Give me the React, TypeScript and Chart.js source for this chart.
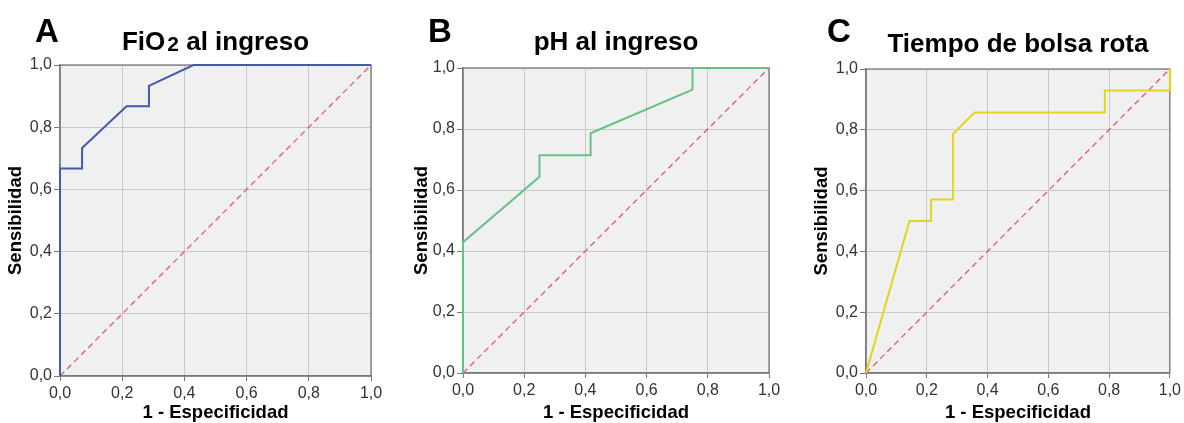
import React, { useEffect, useRef } from "react";
import { Chart, registerables } from "chart.js";

Chart.register(...registerables);

// ---- data ----
const tickValues = [0, 0.2, 0.4, 0.6, 0.8, 1.0];
const tickLabels = ["0,0", "0,2", "0,4", "0,6", "0,8", "1,0"];
const xAxisTitle = "1 - Especificidad";
const yAxisTitle = "Sensibilidad";

const fio2Fpr = [0, 0, 0.071, 0.071, 0.214, 0.286, 0.286, 0.429, 1];
const fio2Tpr = [0, 0.667, 0.667, 0.733, 0.867, 0.867, 0.933, 1, 1];

const phFpr = [0, 0, 0.25, 0.25, 0.417, 0.417, 0.75, 0.75, 1];
const phTpr = [0, 0.429, 0.643, 0.714, 0.714, 0.786, 0.929, 1, 1];

const bolsaFpr = [0, 0.143, 0.214, 0.214, 0.286, 0.286, 0.357, 0.786, 0.786, 1, 1];
const bolsaTpr = [0, 0.5, 0.5, 0.571, 0.571, 0.786, 0.857, 0.857, 0.929, 0.929, 1];

const refFpr = [0, 1];
const refTpr = [0, 1];

const FONT = "'Liberation Sans', Arial, Helvetica, sans-serif";

type TitlePart = { text: string; size: number; dy: number; gap?: number };

type PanelCfg = {
  letter: string;
  title: TitlePart[];
  fpr: number[];
  tpr: number[];
  color: string;
  left: number;
  width: number;
  top: number;
  xAxisH: number;
  yAxisW: number;
  padRight: number;
  yTitlePad: number;
  letterX: number;
  titleBaseline: number;
};

const panels: PanelCfg[] = [
  {
    letter: "A",
    title: [
      { text: "FiO", size: 26, dy: 0 },
      { text: "2", size: 21, dy: 1, gap: 2 },
      { text: " al ingreso", size: 26, dy: 0 },
    ],
    fpr: fio2Fpr,
    tpr: fio2Tpr,
    color: "#4659b0",
    left: 0,
    width: 400,
    top: 65,
    xAxisH: 47,
    yAxisW: 60,
    padRight: 29,
    yTitlePad: 5,
    letterX: 35,
    titleBaseline: 50,
  },
  {
    letter: "B",
    title: [{ text: "pH al ingreso", size: 26, dy: 0 }],
    fpr: phFpr,
    tpr: phTpr,
    color: "#62c384",
    left: 400,
    width: 390,
    top: 68,
    xAxisH: 50,
    yAxisW: 63,
    padRight: 21,
    yTitlePad: 11,
    letterX: 28,
    titleBaseline: 50,
  },
  {
    letter: "C",
    title: [{ text: "Tiempo de bolsa rota", size: 26, dy: 0 }],
    fpr: bolsaFpr,
    tpr: bolsaTpr,
    color: "#e3d41a",
    left: 790,
    width: 394,
    top: 69,
    xAxisH: 50,
    yAxisW: 76,
    padRight: 14,
    yTitlePad: 21,
    letterX: 37,
    titleBaseline: 52,
  },
];

const H = 423;

function Panel({ cfg }: { cfg: PanelCfg }) {
  const ref = useRef<HTMLCanvasElement | null>(null);

  useEffect(() => {
    if (!ref.current) return;
    const decor = {
      id: "decor",
      beforeDraw(chart: any) {
        const { ctx, chartArea: a } = chart;
        ctx.save();
        ctx.fillStyle = "#f0f0f0";
        ctx.fillRect(a.left, a.top, a.right - a.left, a.bottom - a.top);
        ctx.restore();
      },
      beforeDatasetsDraw(chart: any) {
        const { ctx, chartArea: a } = chart;
        ctx.save();
        ctx.strokeStyle = "#7a7a7a";
        ctx.lineWidth = 1.3;
        ctx.strokeRect(a.left, a.top, a.right - a.left, a.bottom - a.top);
        ctx.restore();
      },
      afterDraw(chart: any) {
        const { ctx, chartArea: a } = chart;
        ctx.save();
        ctx.fillStyle = "#000";
        ctx.textBaseline = "alphabetic";
        ctx.textAlign = "left";
        ctx.font = `bold 33px ${FONT}`;
        ctx.fillText(cfg.letter, cfg.letterX, 42);
        // title
        let total = 0;
        const widths = cfg.title.map((p) => {
          ctx.font = `bold ${p.size}px ${FONT}`;
          const w = ctx.measureText(p.text).width + (p.gap || 0);
          total += w;
          return w;
        });
        let x = (a.left + a.right) / 2 - total / 2;
        cfg.title.forEach((p, i) => {
          ctx.font = `bold ${p.size}px ${FONT}`;
          ctx.fillText(p.text, x + (p.gap || 0), cfg.titleBaseline + p.dy);
          x += widths[i];
        });
        ctx.restore();
      },
    };

    const chart = new Chart(ref.current, {
      type: "scatter",
      data: {
        datasets: [
          {
            data: cfg.fpr.map((v, i) => ({ x: v, y: cfg.tpr[i] })),
            showLine: true,
            borderColor: cfg.color,
            backgroundColor: cfg.color,
            borderWidth: 2,
            pointRadius: 0,
            tension: 0,
            clip: 4,
          },
          {
            data: refFpr.map((v, i) => ({ x: v, y: refTpr[i] })),
            showLine: true,
            borderColor: "#e4567a",
            backgroundColor: "#e4567a",
            borderWidth: 1.3,
            borderDash: [6, 4],
            pointRadius: 0,
            tension: 0,
            clip: 4,
          },
        ],
      },
      options: {
        animation: false,
        responsive: false,
        maintainAspectRatio: false,
        devicePixelRatio: 1,
        layout: { padding: { top: cfg.top, left: 0, right: cfg.padRight, bottom: 0 } },
        plugins: {
          legend: { display: false },
          tooltip: { enabled: false },
          title: { display: false },
        },
        scales: {
          x: {
            type: "linear",
            min: 0,
            max: 1,
            afterBuildTicks: (s: any) => {
              s.ticks = tickValues.map((v) => ({ value: v }));
            },
            afterFit: (s: any) => {
              s.height = cfg.xAxisH;
            },
            ticks: {
              callback: (_v: any, i: number) => tickLabels[i],
              font: { family: FONT, size: 16 },
              color: "#333",
              padding: 3,
              maxRotation: 0,
              autoSkip: false,
            },
            grid: { color: "#c9c9c9", lineWidth: 1, tickLength: 5, tickColor: "#777", drawTicks: true },
            border: { color: "#777", width: 1.3 },
            title: {
              display: true,
              text: xAxisTitle,
              color: "#000",
              font: { family: FONT, size: 18.5, weight: "bold", lineHeight: 1.1 },
              padding: { top: 0, bottom: 0 },
            },
          },
          y: {
            type: "linear",
            min: 0,
            max: 1,
            afterBuildTicks: (s: any) => {
              s.ticks = tickValues.map((v) => ({ value: v }));
            },
            afterFit: (s: any) => {
              s.width = cfg.yAxisW;
            },
            ticks: {
              callback: (_v: any, i: number) => tickLabels[i],
              font: { family: FONT, size: 16 },
              color: "#333",
              padding: 2,
              autoSkip: false,
            },
            grid: { color: "#c9c9c9", lineWidth: 1, tickLength: 6, tickColor: "#777", drawTicks: true },
            border: { color: "#777", width: 1.3 },
            title: {
              display: true,
              text: yAxisTitle,
              color: "#000",
              font: { family: FONT, size: 18.5, weight: "bold", lineHeight: 1.2 },
              padding: { top: cfg.yTitlePad, bottom: 0 },
            },
          },
        },
      },
      plugins: [decor],
    } as any);

    return () => chart.destroy();
  }, [cfg]);

  return (
    <div style={{ position: "absolute", left: cfg.left, top: 0, width: cfg.width, height: H }}>
      <canvas ref={ref} width={cfg.width} height={H} style={{ display: "block", width: cfg.width, height: H }} />
    </div>
  );
}

export default function App() {
  return (
    <div style={{ position: "fixed", left: 0, top: 0, width: 1184, height: H, background: "#fff", overflow: "hidden" }}>
      {panels.map((p) => (
        <Panel key={p.letter} cfg={p} />
      ))}
    </div>
  );
}
